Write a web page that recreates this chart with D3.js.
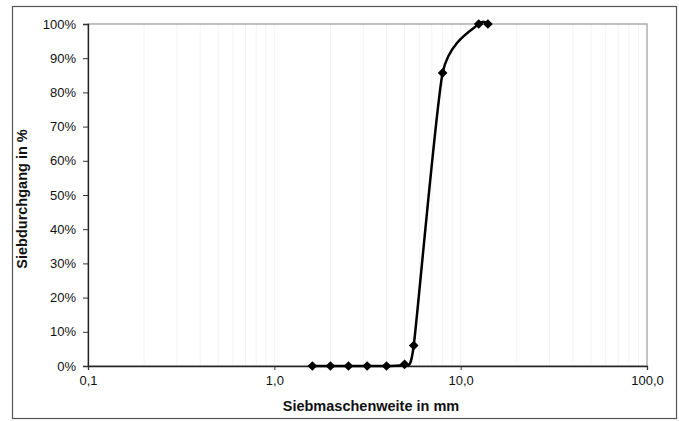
<!DOCTYPE html>
<html>
<head>
<meta charset="utf-8">
<script src="https://cdn.jsdelivr.net/npm/d3@7"></script>
<style>
  body { margin: 0; background: #fff; }
  svg { font-family: "Liberation Sans", Arial, sans-serif; }
</style>
</head>
<body>
<script>
  // Sieve sizes (mm) and passing fractions
  const sieveSizes = [1.6, 2, 2.5, 3.15, 4, 5, 5.6, 8, 12.5, 14];
  const passing = [0, 0, 0, 0, 0, 0.005, 0.06, 0.857, 1.0, 1.0];
  const xTicks = [0.1, 1, 10, 100];
  const yTicks = [0, 0.1, 0.2, 0.3, 0.4, 0.5, 0.6, 0.7, 0.8, 0.9, 1.0];

  const data = sieveSizes.map((s, i) => ({ size: s, pass: passing[i] }));

  const W = 679, H = 421;
  const margin = { top: 24, right: 32, bottom: 55, left: 88 };
  const width = W - margin.left - margin.right;
  const height = H - margin.top - margin.bottom;

  const svg = d3.select('body').append('svg')
    .attr('width', W).attr('height', H);

  // outer frame
  svg.append('rect')
    .attr('x', 12.5).attr('y', 6.5)
    .attr('width', 664).attr('height', 412)
    .attr('fill', 'none').attr('stroke', '#555').attr('stroke-width', 1.2);

  const x = d3.scaleLog().domain([0.1, 100]).range([0, width]);
  const y = d3.scaleLinear().domain([0, 1]).range([height, 0]);

  const chart = svg.append('g')
    .attr('transform', `translate(${margin.left},${margin.top})`);

  // faint minor vertical grid
  const minor = [];
  for (let d = 0.1; d < 100; d *= 10) {
    for (let k = 2; k <= 9; k++) minor.push(d * k);
  }
  chart.selectAll('.grid')
    .data(minor.concat([1, 10]))
    .join('line')
    .attr('class', 'grid')
    .attr('x1', (d) => x(d)).attr('x2', (d) => x(d))
    .attr('y1', 0).attr('y2', height)
    .attr('stroke', '#f3f3f3').attr('stroke-width', 1);

  // plot area border (top/right gray)
  chart.append('rect')
    .attr('x', 0).attr('y', 0).attr('width', width).attr('height', height)
    .attr('fill', 'none').attr('stroke', '#999').attr('stroke-width', 1.2);

  // y axis
  const yAxis = chart.append('g')
    .call(d3.axisLeft(y).tickValues(yTicks).tickSize(5).tickPadding(7)
      .tickFormat((d) => Math.round(d * 100) + '%'));
  yAxis.select('.domain').attr('stroke', '#222').attr('stroke-width', 1.3);
  yAxis.selectAll('.tick line').attr('stroke', '#333');
  yAxis.selectAll('text').attr('font-size', 13).attr('fill', '#111');

  // x axis
  const xAxis = chart.append('g')
    .attr('transform', `translate(0,${height})`)
    .call(d3.axisBottom(x).tickValues(xTicks).tickSize(4).tickPadding(6)
      .tickFormat((d) => d3.format('.1f')(d).replace('.', ',')));
  xAxis.select('.domain').attr('stroke', '#222').attr('stroke-width', 1.3);
  xAxis.selectAll('.tick line').attr('stroke', '#333');
  xAxis.selectAll('text').attr('font-size', 13).attr('fill', '#111');

  // smoothed line
  const line = d3.line()
    .x((d) => x(d.size))
    .y((d) => y(d.pass))
    .curve(d3.curveCardinal.tension(0.4));

  chart.append('path')
    .datum(data)
    .attr('d', line)
    .attr('fill', 'none')
    .attr('stroke', '#000')
    .attr('stroke-width', 2.5);

  // diamond markers
  const diamond = d3.symbol().type(d3.symbolDiamond2).size(60);
  chart.selectAll('.pt')
    .data(data)
    .join('path')
    .attr('class', 'pt')
    .attr('d', diamond)
    .attr('transform', (d) => `translate(${x(d.size)},${y(d.pass)})`)
    .attr('fill', '#000');

  // axis titles
  svg.append('text')
    .attr('x', 371)
    .attr('y', 411)
    .attr('text-anchor', 'middle')
    .attr('font-size', 14.5).attr('font-weight', 'bold').attr('fill', '#111')
    .text('Siebmaschenweite in mm');

  svg.append('text')
    .attr('transform', `translate(27,${margin.top + height / 2 + 4}) rotate(-90)`)
    .attr('text-anchor', 'middle')
    .attr('font-size', 14.5).attr('font-weight', 'bold').attr('fill', '#111')
    .text('Siebdurchgang in %');
</script>
</body>
</html>
